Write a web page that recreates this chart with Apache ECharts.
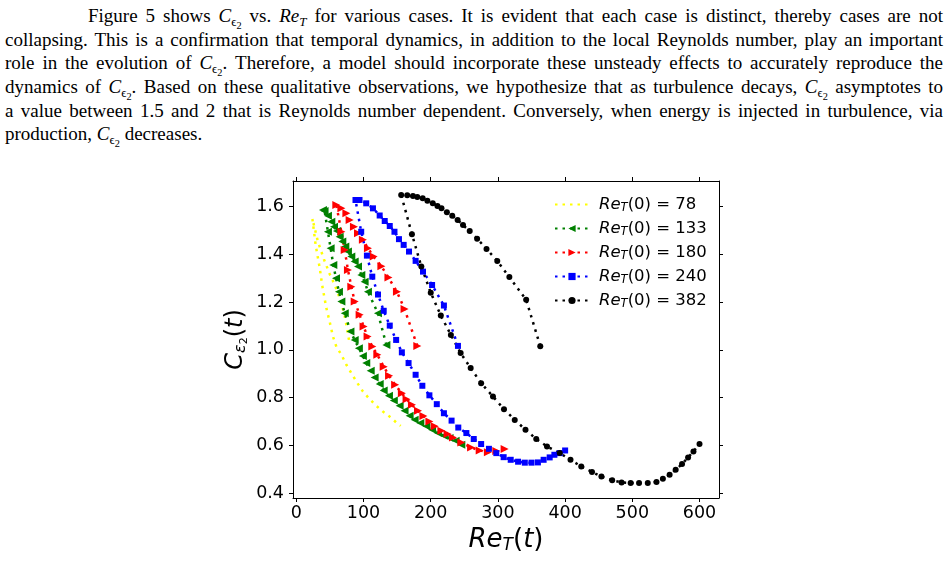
<!DOCTYPE html>
<html>
<head>
<meta charset="utf-8">
<script src="https://cdn.jsdelivr.net/npm/echarts@6/dist/echarts.min.js"></script>
<style>
  html, body { margin: 0; padding: 0; background: #fff; }
  #wrap { position: relative; width: 949px; height: 561px; overflow: hidden; }
  #chart { position: absolute; left: 0; top: 0; width: 949px; height: 561px; }
  #text {
    position: absolute; left: 5px; top: 4px; width: 938px;
    font-family: 'Liberation Serif', 'Times New Roman', serif;
    font-size: 19px; line-height: 23.7px; color: #000;
  }
  .ln { height: 23.7px; text-align: justify; text-align-last: justify; white-space: nowrap; }
  .last { height: 23.7px; text-align: left; }
  sub { font-size: 0.68em; vertical-align: -0.3em; line-height: 0; }
  sub sub { font-size: 0.8em; vertical-align: -0.25em; }
</style>
</head>
<body>
<div id="wrap">
  <div id="text">
    <div class="ln" style="padding-left:83px">Figure 5 shows <i>C</i><sub>ϵ<sub>2</sub></sub> vs. <i>Re<sub>T</sub></i> for various cases. It is evident that each case is distinct, thereby cases are not</div>
    <div class="ln">collapsing. This is a confirmation that temporal dynamics, in addition to the local Reynolds number, play an important</div>
    <div class="ln">role in the evolution of <i>C</i><sub>ϵ<sub>2</sub></sub>. Therefore, a model should incorporate these unsteady effects to accurately reproduce the</div>
    <div class="ln">dynamics of <i>C</i><sub>ϵ<sub>2</sub></sub>. Based on these qualitative observations, we hypothesize that as turbulence decays, <i>C</i><sub>ϵ<sub>2</sub></sub> asymptotes to</div>
    <div class="ln">a value between 1.5 and 2 that is Reynolds number dependent. Conversely, when energy is injected in turbulence, via</div>
    <div class="last">production, <i>C</i><sub>ϵ<sub>2</sub></sub> decreases.</div>
  </div>
  <div id="chart"></div>
</div>
<script>
// tick labels
const reTicks = [0, 100, 200, 300, 400, 500, 600];
const ceTicks = [0.4, 0.6, 0.8, 1.0, 1.2, 1.4, 1.6];

// each case: from Re_T(0) up to the peak, then down the production branch
const re78 = [78.3, 75.5, 72, 67.5, 62, 56, 49.6, 41, 32, 23.8, 28.7, 34.7, 39.1, 44.6, 49.6, 54.5, 59.5, 67, 74.4, 81.8, 89.3, 99.1, 109, 119, 128.9, 138.8, 148.8, 155.2];
const ce78 = [1.042, 1.09, 1.14, 1.19, 1.237, 1.28, 1.318, 1.38, 1.455, 1.55, 1.44, 1.344, 1.26, 1.176, 1.118, 1.056, 1.014, 0.98, 0.938, 0.903, 0.868, 0.826, 0.794, 0.766, 0.742, 0.721, 0.696, 0.682];

const re133 = [134, 121.4, 106.5, 101.6, 96.7, 91.7, 86.8, 81.8, 76.8, 72.9, 68.4, 64.4, 60.4, 56, 52, 47, 42, 39.6,
  47, 51, 55, 59, 63.4, 67, 72, 80.5, 86.8, 93, 99, 104, 110.6, 116.5, 124, 130, 137.8, 145, 153.7, 161, 168.6, 176, 184.5, 193.5, 202, 210.7, 219.6, 228, 237, 245.5];
const ce133 = [1.021, 1.154, 1.244, 1.286, 1.314, 1.349, 1.37, 1.391, 1.412, 1.433, 1.454, 1.474, 1.498, 1.516, 1.537, 1.562, 1.582, 1.586,
  1.495, 1.426, 1.356, 1.30, 1.244, 1.203, 1.154, 1.077, 1.042, 1.007, 0.975, 0.945, 0.913, 0.885, 0.857, 0.83, 0.808, 0.788, 0.766, 0.745, 0.724, 0.708, 0.694, 0.68, 0.666, 0.652, 0.641, 0.631, 0.62, 0.603];

const re180 = [180, 161, 149.7, 137, 126.5, 115, 106.5, 99, 91.7, 85.7, 79.3, 74.4, 67, 59.5,
  67, 71.9, 76.8, 81.8, 86.8, 94.2, 100, 106, 113, 120.5, 130, 138, 147, 157, 164, 172, 181, 189, 198, 206, 215.8, 225, 233, 245.5, 260, 272.8, 285, 297.6, 310];
const ce180 = [1.017, 1.171, 1.244, 1.303, 1.351, 1.391, 1.426, 1.461, 1.489, 1.516, 1.544, 1.572, 1.593, 1.607,
  1.495, 1.419, 1.335, 1.265, 1.203, 1.147, 1.098, 1.056, 1.014, 0.98, 0.93, 0.892, 0.854, 0.819, 0.794, 0.77, 0.745, 0.723, 0.70, 0.68, 0.662, 0.648, 0.633, 0.612, 0.592, 0.579, 0.572, 0.577, 0.585];

const re240 = [240.5, 219.6, 202, 188.5, 177.5, 167.6, 159.7, 152.7, 146, 139, 131.5, 124, 114, 104, 94, 88,
  96.5, 105, 113, 121.5, 130, 139, 148.5, 157, 167, 177.5, 187.5, 198, 209, 219.6, 231, 241, 253, 264, 275, 286.6, 297.6, 308.5, 319, 330, 340, 350, 359.5, 368, 377, 384, 392, 400];
const ce240 = [1.017, 1.186, 1.272, 1.328, 1.373, 1.412, 1.44, 1.464, 1.495, 1.519, 1.54, 1.563, 1.593, 1.614, 1.628, 1.628,
  1.495, 1.395, 1.307, 1.232, 1.164, 1.102, 1.042, 0.99, 0.945, 0.896, 0.85, 0.81, 0.773, 0.735, 0.704, 0.675, 0.652, 0.627, 0.606, 0.586, 0.568, 0.551, 0.54, 0.532, 0.528, 0.528, 0.529, 0.54, 0.55, 0.561, 0.568, 0.579];

const re382 = [363, 342, 317, 299, 283, 269, 258, 248, 240, 232, 224, 216, 210, 203, 195, 188, 180, 173.5, 165, 156,
  172, 186, 200, 215, 230, 244.5, 259.4, 275, 292.6, 309, 325, 341, 357, 373, 392, 408, 424, 440, 454, 470, 484, 497.5, 510, 523, 536, 545.5, 555.5, 564.5, 574, 583, 591, 600];
const ce382 = [1.016, 1.21, 1.305, 1.373, 1.423, 1.466, 1.498, 1.523, 1.544, 1.562, 1.577, 1.593, 1.603, 1.614, 1.625, 1.635, 1.641, 1.645, 1.648, 1.649,
  1.485, 1.349, 1.24, 1.144, 1.063, 0.987, 0.924, 0.861, 0.805, 0.752, 0.707, 0.666, 0.627, 0.596, 0.568, 0.54, 0.512, 0.489, 0.47, 0.454, 0.445, 0.443, 0.443, 0.443, 0.447, 0.461, 0.477, 0.498, 0.522, 0.55, 0.575, 0.606];

const caseLabels = ['78', '133', '180', '240', '382'];

const FONT = 'DejaVu Sans';

function pairs(xs, ys) {
  return xs.map((x, i) => [x, ys[i]]);
}

function makeSeries(label, re, ce, color, symbol, size, rotate) {
  return {
    name: 'Re_T(0) = ' + label,
    type: 'line',
    data: pairs(re, ce),
    symbol: symbol,
    symbolSize: size,
    symbolRotate: rotate || 0,
    showSymbol: symbol !== 'none',
    itemStyle: { color: color },
    lineStyle: { color: color, width: 2.5, type: [2.5, 5] },
    animation: false,
    silent: true
  };
}

function tickAxis(pos, min, max, ticks, showLabel) {
  return {
    type: 'value',
    position: pos,
    min: min,
    max: max,
    axisLine: { show: true, onZero: false, lineStyle: { color: '#000', width: 1 } },
    axisTick: { show: true, customValues: ticks, length: 4, lineStyle: { color: '#000', width: 1 } },
    axisLabel: {
      show: showLabel,
      customValues: ticks,
      color: '#000',
      fontSize: 17.5,
      fontFamily: FONT
    },
    splitLine: { show: false }
  };
}

const chart = echarts.init(document.getElementById('chart'), null, { renderer: 'canvas' });

const xBottom = tickAxis('bottom', -5, 629, reTicks, true);
xBottom.axisLabel.margin = 6;
xBottom.name = '{i|Re}{s|T}{n|(}{i|t}{n|)}';
xBottom.nameLocation = 'middle';
xBottom.nameGap = 22;
xBottom.nameTextStyle = {
  verticalAlign: 'top',
  rich: {
    i: { fontFamily: FONT, fontStyle: 'italic', fontSize: 26, color: '#000' },
    n: { fontFamily: FONT, fontSize: 26, color: '#000' },
    s: { fontFamily: FONT, fontStyle: 'italic', fontSize: 17, color: '#000', padding: [12, 0, 0, 0] }
  }
};
const xTop = tickAxis('top', -5, 629, reTicks, false);

const yLeft = tickAxis('left', 0.38, 1.7075, ceTicks, true);
yLeft.axisLabel.margin = 9;
yLeft.axisLabel.formatter = v => v.toFixed(1);
yLeft.name = '{i|C}{s|ε}{ss|2}{n|(}{i|t}{n|)}';
yLeft.nameLocation = 'middle';
yLeft.nameGap = 43;
yLeft.nameTextStyle = {
  rich: {
    i: { fontFamily: FONT, fontStyle: 'italic', fontSize: 24, color: '#000' },
    n: { fontFamily: FONT, fontSize: 24, color: '#000' },
    s: { fontFamily: FONT, fontStyle: 'italic', fontSize: 16, color: '#000', padding: [11, 0, 0, 0] },
    ss: { fontFamily: FONT, fontSize: 11, color: '#000', padding: [18, 0, 0, 0] }
  }
};
const yRight = tickAxis('right', 0.38, 1.7075, ceTicks, false);

const series = [
  makeSeries(caseLabels[0], re78, ce78, '#ffff00', 'none', 0),
  makeSeries(caseLabels[1], re133, ce133, '#008000', 'triangle', 8, 90),
  makeSeries(caseLabels[2], re180, ce180, '#ff0000', 'triangle', 8, -90),
  makeSeries(caseLabels[3], re240, ce240, '#0000ff', 'rect', 6),
  makeSeries(caseLabels[4], re382, ce382, '#000000', 'circle', 6)
];

// the yellow case has no marker, so hide the legend symbol for it
const legendData = series.map((s, i) => i === 0
  ? { name: s.name, itemStyle: { opacity: 0 } }
  : { name: s.name });

chart.setOption({
  backgroundColor: 'transparent',
  grid: { left: 293, right: 230, top: 181, bottom: 63, containLabel: false, outerBoundsMode: 'none' },
  xAxis: [xBottom, xTop],
  yAxis: [yLeft, yRight],
  legend: {
    data: legendData,
    orient: 'vertical',
    left: 549,
    top: 191,
    itemWidth: 34,
    itemHeight: 9,
    itemGap: 6,
    selectedMode: false,
    formatter: name => '{g|}{i|Re}{s|T}{n|' + name.slice(4) + '}',
    textStyle: {
      color: '#000',
      fontSize: 16,
      fontFamily: FONT,
      rich: {
        g: { width: 5 },
        i: { fontFamily: FONT, fontStyle: 'italic', fontSize: 16.5, color: '#000' },
        n: { fontFamily: FONT, fontSize: 16.5, color: '#000' },
        s: { fontFamily: FONT, fontStyle: 'italic', fontSize: 11.5, color: '#000', padding: [7, 0, 0, 0] }
      }
    }
  },
  series: series
});
</script>
</body>
</html>
